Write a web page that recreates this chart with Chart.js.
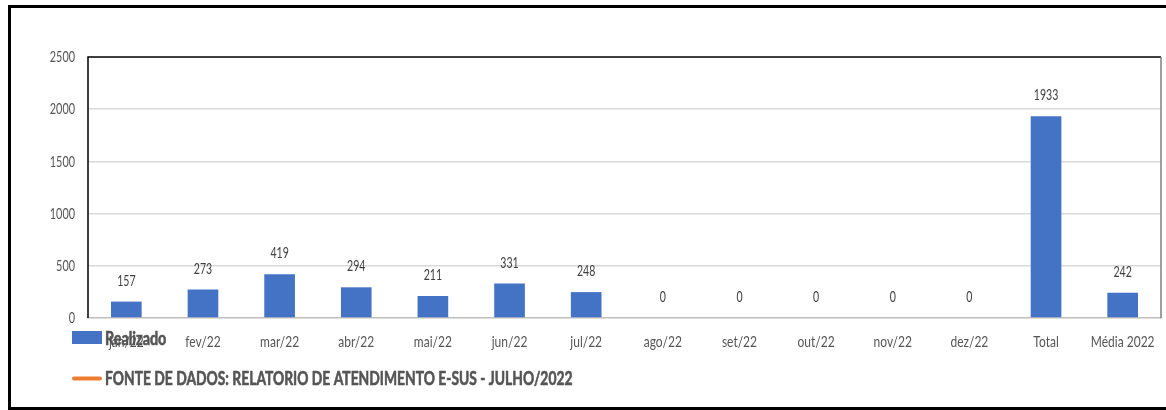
<!DOCTYPE html>
<html>
<head>
<meta charset="utf-8">
<script src="https://cdn.jsdelivr.net/npm/chart.js@4/dist/chart.umd.min.js"></script>
<style>
  html, body { margin: 0; padding: 0; background: #fff; }
  body { width: 1166px; height: 410px; position: relative; overflow: hidden; }
  #frame { position: absolute; left: 8px; top: 5px; width: 1158px; height: 405px; border: 3px solid #000; border-right: none; box-sizing: border-box; }
  #wrap { position: absolute; left: 0; top: 0; width: 1166px; height: 410px; }
</style>
</head>
<body>
<div id="frame"></div>
<div id="wrap"><canvas id="c" width="1166" height="410"></canvas></div>
<script>
const categories = ['jan/22','fev/22','mar/22','abr/22','mai/22','jun/22','jul/22','ago/22','set/22','out/22','nov/22','dez/22','Total','Média 2022'];
const realizado = [157, 273, 419, 294, 211, 331, 248, 0, 0, 0, 0, 0, 1933, 242];
const fonteLabel = 'FONTE DE DADOS: RELATORIO DE ATENDIMENTO E-SUS - JULHO/2022';
const yTicks = [0, 500, 1000, 1500, 2000, 2500];

const FONT = "Lato, 'Open Sans', sans-serif";

function drawText(ctx, text, x, y, font, sx, align, color, stroke) {
  ctx.save();
  ctx.translate(x, y);
  ctx.scale(sx, 1);
  ctx.font = font;
  ctx.fillStyle = color;
  ctx.textAlign = align;
  ctx.textBaseline = 'middle';
  ctx.fillText(text, 0, 0);
  if (stroke) {
    ctx.strokeStyle = color;
    ctx.lineWidth = stroke;
    ctx.lineJoin = 'round';
    ctx.strokeText(text, 0, 0);
  }
  ctx.restore();
}

const textLayer = {
  id: 'textLayer',
  afterDraw(chart) {
    const ctx = chart.ctx;
    const xs = chart.scales.x, ys = chart.scales.y;
    ys.ticks.forEach(t => {
      drawText(ctx, String(t.value), 75, ys.getPixelForValue(t.value), '16px ' + FONT, 0.68, 'right', '#555555');
    });
    categories.forEach((c, i) => {
      drawText(ctx, c, xs.getPixelForTick(i), 342, '16px ' + FONT, 0.75, 'center', '#555555');
    });
    const meta = chart.getDatasetMeta(0);
    meta.data.forEach((bar, i) => {
      drawText(ctx, String(realizado[i]), bar.x, bar.y - 21, '16px ' + FONT, 0.66, 'center', '#404040');
    });
    const ds = chart.data.datasets;
    ctx.save();
    ctx.fillStyle = ds[0].backgroundColor;
    ctx.fillRect(72, 331, 30, 13);
    ctx.strokeStyle = ds[1].borderColor;
    ctx.lineWidth = 4;
    ctx.lineCap = 'round';
    ctx.beginPath();
    ctx.moveTo(74, 378.5); ctx.lineTo(100, 378.5);
    ctx.stroke();
    ctx.restore();
    drawText(ctx, ds[0].label, 105, 339, 'bold 18px ' + FONT, 0.8, 'left', '#555555', 0.6);
    drawText(ctx, ds[1].label, 105, 379, 'bold 18px ' + FONT, 0.77, 'left', '#555555', 0.6);
  }
};

const frameLines = {
  id: 'frameLines',
  afterDatasetsDraw(chart) {
    const { ctx, chartArea: a } = chart;
    ctx.save();
    ctx.lineWidth = 1.5;
    ctx.strokeStyle = '#000';
    ctx.beginPath();
    ctx.moveTo(a.left, a.bottom); ctx.lineTo(a.left, a.top); ctx.lineTo(a.right, a.top);
    ctx.stroke();
    ctx.strokeStyle = '#7f7f7f';
    ctx.beginPath();
    ctx.moveTo(a.right, a.top); ctx.lineTo(a.right, a.bottom);
    ctx.stroke();
    ctx.restore();
  }
};

new Chart(document.getElementById('c'), {
  type: 'bar',
  data: {
    labels: categories,
    datasets: [
      {
        label: 'Realizado',
        data: realizado,
        backgroundColor: '#4472C4',
        borderWidth: 0,
        categoryPercentage: 1,
        barPercentage: 0.4
      },
      {
        type: 'line',
        label: fonteLabel,
        data: categories.map(() => null),
        borderColor: '#ED7D31',
        backgroundColor: '#ED7D31',
        pointRadius: 0
      }
    ]
  },
  options: {
    responsive: false,
    animation: false,
    devicePixelRatio: 1,
    layout: { padding: { left: 0, top: 57, right: 5, bottom: 0 } },
    plugins: { legend: { display: false }, tooltip: { enabled: false }, title: { display: false } },
    scales: {
      x: {
        grid: { display: false, drawTicks: false },
        border: { display: true, color: '#bfbfbf', width: 1.5 },
        ticks: { display: false },
        afterFit(s) { s.height = 92; s.paddingLeft = 0; s.paddingRight = 0; }
      },
      y: {
        min: 0, max: 2500,
        afterBuildTicks(s) { s.ticks = yTicks.map(v => ({ value: v })); },
        grid: {
          drawTicks: false,
          color: ctx => (ctx.tick && (ctx.tick.value === 0 || ctx.tick.value === 2500)) ? 'rgba(0,0,0,0)' : '#d9d9d9',
          lineWidth: 1.5
        },
        border: { display: false },
        ticks: { display: false },
        afterFit(s) { s.width = 88; s.paddingTop = 0; s.paddingBottom = 0; }
      }
    }
  },
  plugins: [frameLines, textLayer]
});
</script>
</body>
</html>
